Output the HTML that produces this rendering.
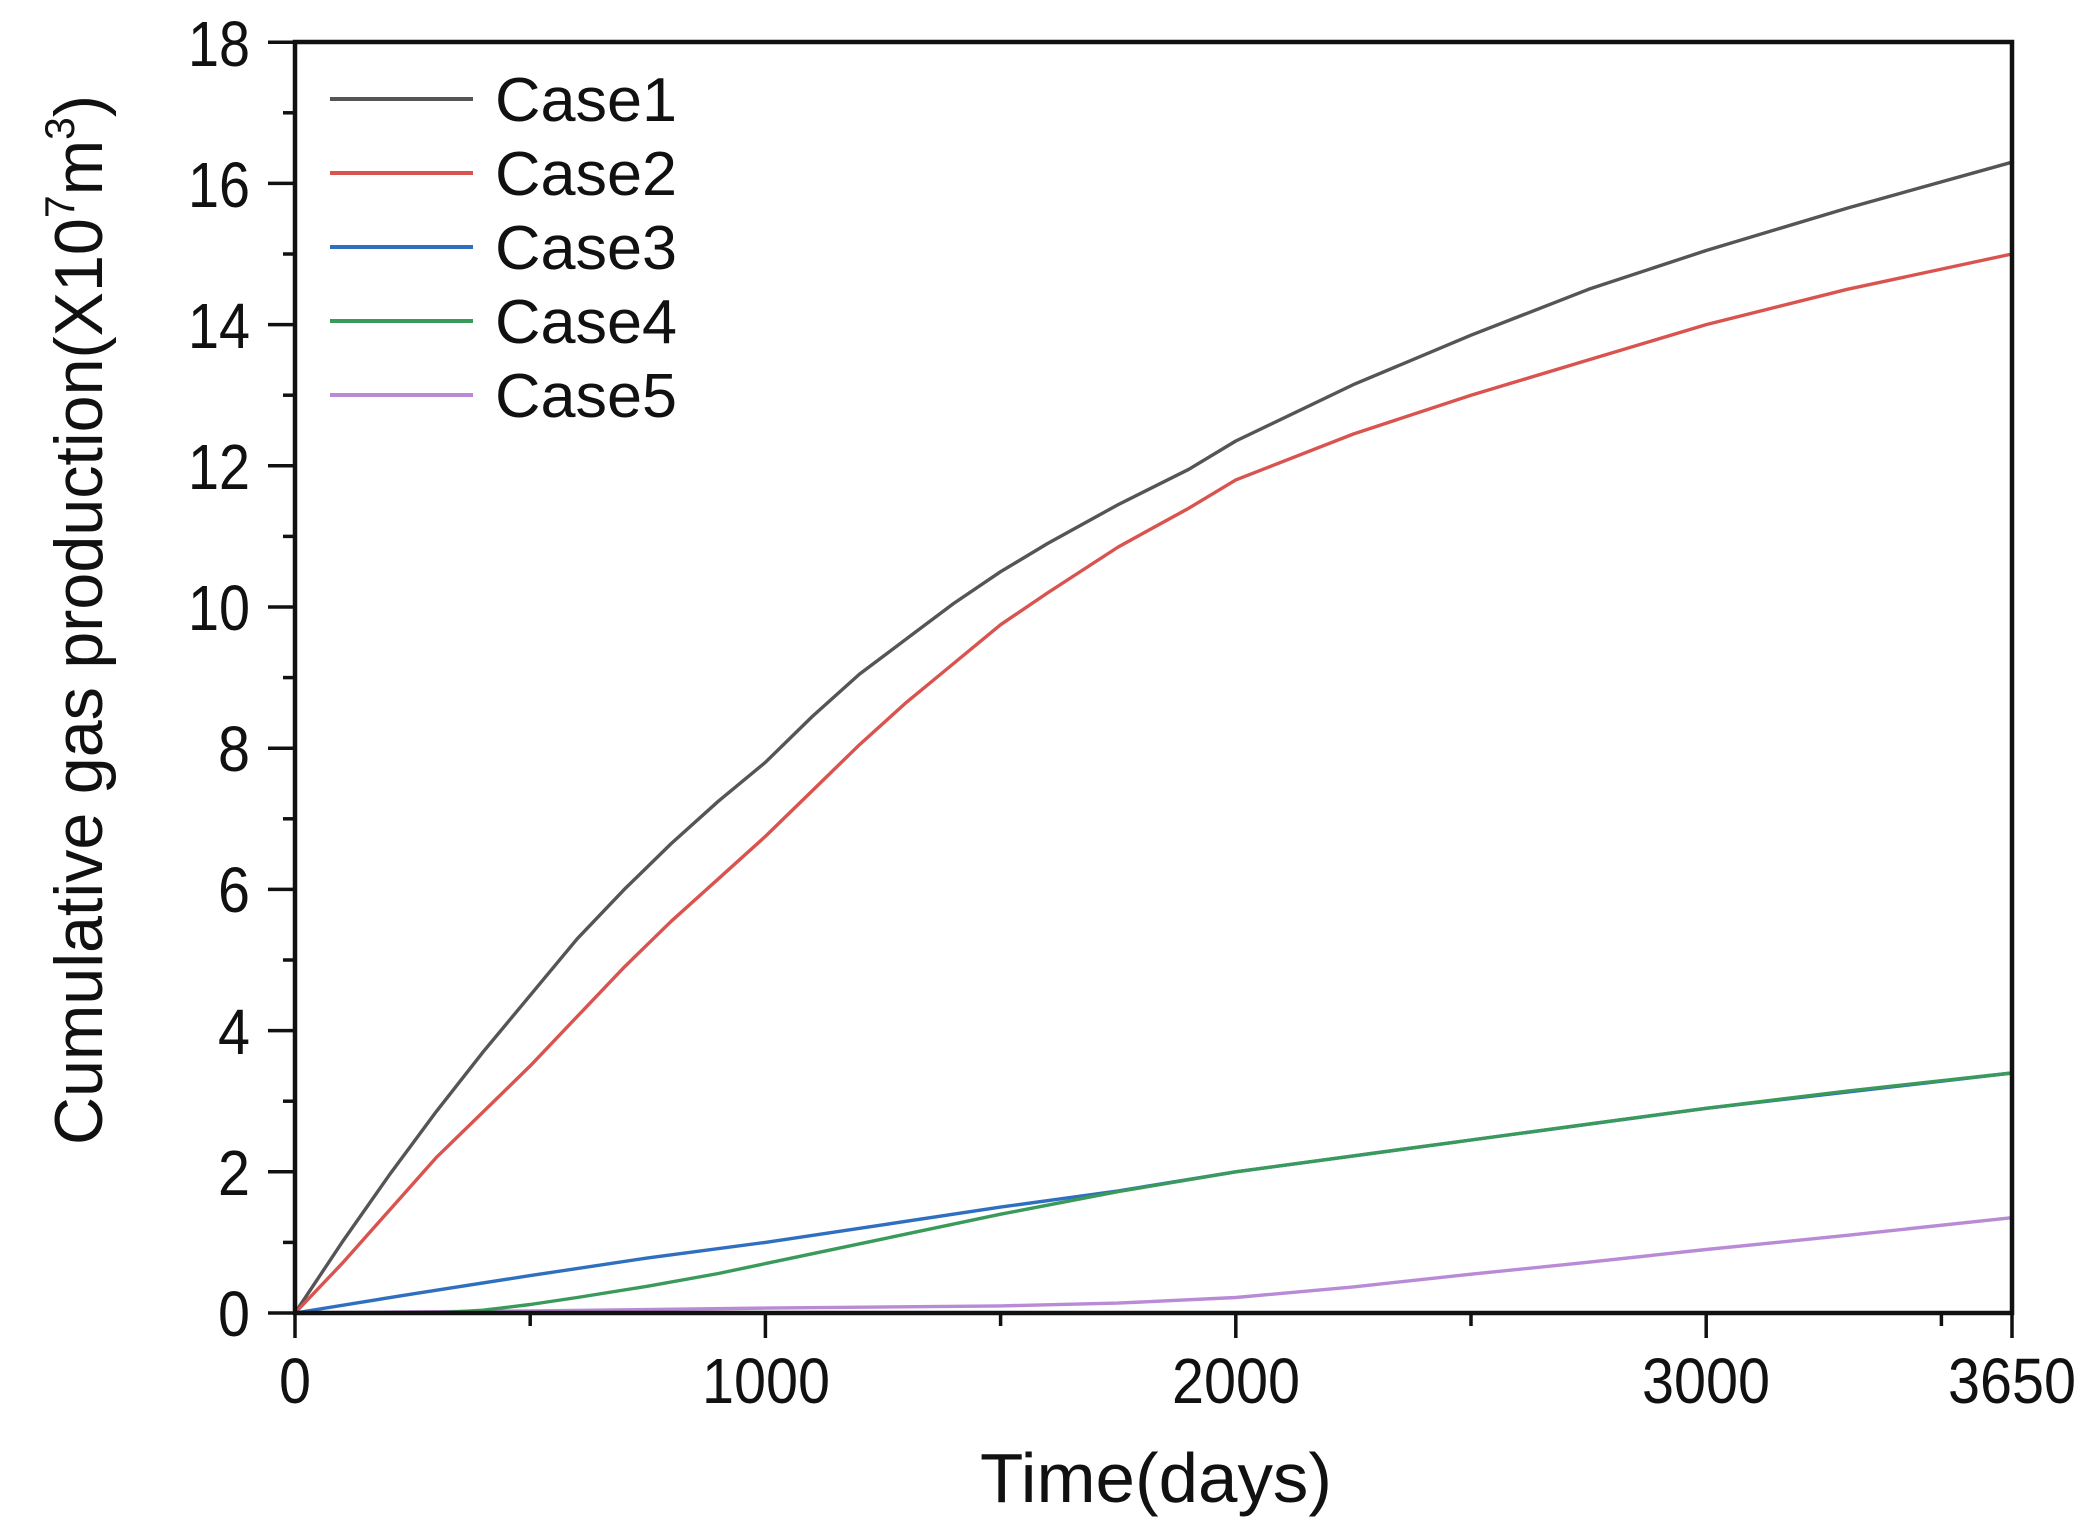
<!DOCTYPE html>
<html><head><meta charset="utf-8">
<style>html,body{margin:0;padding:0;background:#fff;}svg{display:block;}</style>
</head><body>
<svg width="2090" height="1533" viewBox="0 0 2090 1533" xmlns="http://www.w3.org/2000/svg" font-family="Liberation Sans, Arial, sans-serif">
<rect width="2090" height="1533" fill="#fff"/>
<g fill="none" stroke-width="3.4" stroke-linejoin="round" stroke-linecap="round">
<polyline stroke="#555" points="295,1313 342,1242.4 389.1,1175.3 436.1,1111.8 483.2,1051.8 530.2,995.3 577.2,938.8 624.3,889.4 671.3,843.5 718.4,801.2 765.4,762.3 812.4,716.4 859.5,674.1 906.5,638.8 953.6,603.5 1000.6,571.7 1047.6,543.5 1118.2,504.6 1188.8,469.3 1235.8,441 1353.4,384.6 1471,335.2 1588.6,289.3 1706.2,250.5 1847.3,208.1 2012,162.2"/>
<polyline stroke="#d9534f" points="295,1313 342,1263.6 389.1,1210.6 436.1,1157.7 483.2,1111.8 530.2,1065.9 577.2,1016.5 624.3,967.1 671.3,921.2 718.4,878.8 765.4,836.4 812.4,790.6 859.5,744.7 906.5,702.3 953.6,663.5 1000.6,624.7 1047.6,592.9 1118.2,547 1188.8,508.2 1235.8,479.9 1353.4,434 1471,395.2 1588.6,359.9 1706.2,324.6 1847.3,289.3 2012,254"/>
<polyline stroke="#b98ad6" points="295,1313 530.2,1310.9 765.4,1308.1 1000.6,1305.9 1118.2,1303.1 1235.8,1297.5 1353.4,1286.9 1471,1274.2 1588.6,1262.2 1706.2,1249.5 1847.3,1235.3 2012,1217.7"/>
<polyline stroke="#2f6fc0" points="295,1313 412.6,1293.9 530.2,1275.6 647.8,1257.9 765.4,1242.4 883,1224.8 1000.6,1207.1 1118.2,1190.9 1235.8,1171.8 1471,1140 1706.2,1108.3 2012,1073"/>
<polyline stroke="#3a9a5b" points="295,1313 436.1,1313 483.2,1310.2 530.2,1304.5 577.2,1297.5 647.8,1286.2 718.4,1273.5 765.4,1263.6 883,1238.9 1000.6,1214.2 1118.2,1191.6 1235.8,1171.8 1353.4,1155.9 1471,1140 1588.6,1124.1 1706.2,1108.3 1847.3,1091 2012,1073"/>
</g>
<g stroke="#111" stroke-width="3.5">
<line x1="268" y1="1313" x2="295" y2="1313"/><line x1="283" y1="1242.4" x2="295" y2="1242.4"/>
<line x1="268" y1="1171.8" x2="295" y2="1171.8"/><line x1="283" y1="1101.2" x2="295" y2="1101.2"/>
<line x1="268" y1="1030.6" x2="295" y2="1030.6"/><line x1="283" y1="960" x2="295" y2="960"/>
<line x1="268" y1="889.4" x2="295" y2="889.4"/><line x1="283" y1="818.8" x2="295" y2="818.8"/>
<line x1="268" y1="748.2" x2="295" y2="748.2"/><line x1="283" y1="677.6" x2="295" y2="677.6"/>
<line x1="268" y1="607" x2="295" y2="607"/><line x1="283" y1="536.4" x2="295" y2="536.4"/>
<line x1="268" y1="465.8" x2="295" y2="465.8"/><line x1="283" y1="395.2" x2="295" y2="395.2"/>
<line x1="268" y1="324.6" x2="295" y2="324.6"/><line x1="283" y1="254" x2="295" y2="254"/>
<line x1="268" y1="183.4" x2="295" y2="183.4"/><line x1="283" y1="112.8" x2="295" y2="112.8"/>
<line x1="268" y1="42.2" x2="295" y2="42.2"/>
<line x1="295" y1="1313" x2="295" y2="1338"/><line x1="530.2" y1="1313" x2="530.2" y2="1326"/>
<line x1="765.4" y1="1313" x2="765.4" y2="1338"/><line x1="1000.6" y1="1313" x2="1000.6" y2="1326"/>
<line x1="1235.8" y1="1313" x2="1235.8" y2="1338"/><line x1="1471" y1="1313" x2="1471" y2="1326"/>
<line x1="1706.2" y1="1313" x2="1706.2" y2="1338"/><line x1="1941.4" y1="1313" x2="1941.4" y2="1326"/>
<line x1="2012" y1="1313" x2="2012" y2="1338"/>
</g>
<rect x="295" y="42" width="1717" height="1271" fill="none" stroke="#111" stroke-width="4.5"/>
<g font-size="64" fill="#111" text-anchor="end">
<text x="250" y="1336" textLength="32" lengthAdjust="spacingAndGlyphs">0</text>
<text x="250" y="1195" textLength="32" lengthAdjust="spacingAndGlyphs">2</text>
<text x="250" y="1054" textLength="32" lengthAdjust="spacingAndGlyphs">4</text>
<text x="250" y="912" textLength="32" lengthAdjust="spacingAndGlyphs">6</text>
<text x="250" y="771" textLength="32" lengthAdjust="spacingAndGlyphs">8</text>
<text x="250" y="630" textLength="62" lengthAdjust="spacingAndGlyphs">10</text>
<text x="250" y="489" textLength="62" lengthAdjust="spacingAndGlyphs">12</text>
<text x="250" y="348" textLength="62" lengthAdjust="spacingAndGlyphs">14</text>
<text x="250" y="207" textLength="62" lengthAdjust="spacingAndGlyphs">16</text>
<text x="250" y="66" textLength="62" lengthAdjust="spacingAndGlyphs">18</text>
</g>
<g font-size="64" fill="#111" text-anchor="middle">
<text x="295" y="1403" textLength="32" lengthAdjust="spacingAndGlyphs">0</text>
<text x="766" y="1403" textLength="128" lengthAdjust="spacingAndGlyphs">1000</text>
<text x="1236" y="1403" textLength="128" lengthAdjust="spacingAndGlyphs">2000</text>
<text x="1706" y="1403" textLength="128" lengthAdjust="spacingAndGlyphs">3000</text>
<text x="2012" y="1403" textLength="128" lengthAdjust="spacingAndGlyphs">3650</text>
</g>
<text x="1156" y="1502" font-size="70" fill="#111" text-anchor="middle" textLength="352" lengthAdjust="spacingAndGlyphs">Time(days)</text>
<text transform="translate(102,620) rotate(-90)" font-size="68" fill="#111" text-anchor="middle" textLength="1050" lengthAdjust="spacingAndGlyphs">Cumulative gas production(X10<tspan font-size="42" dy="-28">7</tspan><tspan dy="28">m</tspan><tspan font-size="42" dy="-28">3</tspan><tspan dy="28">)</tspan></text>
<g stroke-width="4">
<line x1="330" y1="99" x2="473" y2="99" stroke="#555"/>
<line x1="330" y1="173" x2="473" y2="173" stroke="#d9534f"/>
<line x1="330" y1="247" x2="473" y2="247" stroke="#2f6fc0"/>
<line x1="330" y1="321" x2="473" y2="321" stroke="#3a9a5b"/>
<line x1="330" y1="395" x2="473" y2="395" stroke="#b98ad6"/>
</g>
<g font-size="62" fill="#111">
<text x="495" y="121" textLength="182" lengthAdjust="spacingAndGlyphs">Case1</text>
<text x="495" y="195" textLength="182" lengthAdjust="spacingAndGlyphs">Case2</text>
<text x="495" y="269" textLength="182" lengthAdjust="spacingAndGlyphs">Case3</text>
<text x="495" y="343" textLength="182" lengthAdjust="spacingAndGlyphs">Case4</text>
<text x="495" y="417" textLength="182" lengthAdjust="spacingAndGlyphs">Case5</text>
</g>
</svg>
</body></html>
